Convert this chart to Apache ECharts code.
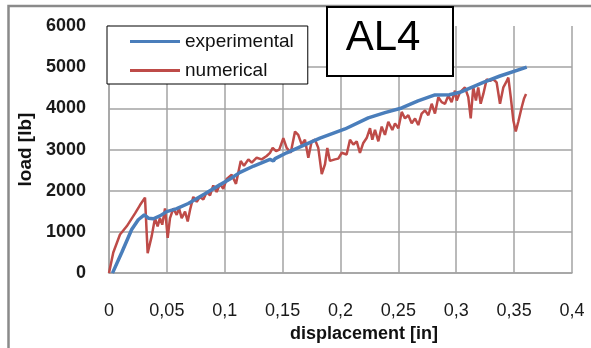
<!DOCTYPE html>
<html>
<head>
<meta charset="utf-8">
<script src="https://cdn.jsdelivr.net/npm/echarts@6/dist/echarts.min.js"></script>
<style>
  html, body { margin: 0; padding: 0; background: #fff; }
  #chart { width: 591px; height: 348px; }
</style>
</head>
<body>
<div id="chart"></div>
<script>
// experimental curve (displacement in, load lb)
const expDisp = [0.003, 0.011, 0.0196, 0.0253, 0.0305, 0.034, 0.0383, 0.044, 0.0498, 0.058, 0.0685,
  0.0829, 0.095, 0.1045, 0.1132, 0.125, 0.1391, 0.142, 0.1435, 0.1535, 0.168, 0.1823, 0.2039,
  0.224, 0.2384, 0.2395, 0.2529, 0.267, 0.2816, 0.294, 0.3032, 0.3234, 0.3378, 0.3609];
const expLoad = [0, 500, 1057, 1295, 1414, 1333, 1320, 1390, 1493, 1560, 1690,
  1929, 2130, 2286, 2445, 2600, 2762, 2722, 2780, 2921, 3100, 3279, 3500,
  3771, 3898, 3860, 4010, 4180, 4326, 4330, 4390, 4629, 4786, 5000];

// numerical curve
const numDisp = [0, 0.0037, 0.0095, 0.0153, 0.0225, 0.0268, 0.0311, 0.0334, 0.0369, 0.0397, 0.042,
  0.044, 0.046, 0.0484, 0.0507, 0.0527, 0.0556, 0.0585, 0.0605, 0.0628, 0.0657, 0.068, 0.07,
  0.0728, 0.0758, 0.0786, 0.0815, 0.0844, 0.0873, 0.0901, 0.093, 0.0959, 0.0987, 0.1017,
  0.1031, 0.106, 0.1097, 0.1138, 0.1166, 0.1204, 0.1233, 0.1276, 0.1319, 0.1362, 0.1391, 0.1414,
  0.1443, 0.1471, 0.1506, 0.1535, 0.157, 0.1607, 0.1635, 0.1665, 0.1693, 0.1722, 0.1751, 0.178,
  0.1808, 0.1838, 0.1866, 0.1886, 0.1909, 0.1952, 0.1981, 0.201, 0.2053, 0.2082, 0.2111, 0.214,
  0.2168, 0.2197, 0.2226, 0.2255, 0.2275, 0.2298, 0.2327, 0.2356, 0.2384, 0.2413, 0.2448, 0.2471,
  0.25, 0.2529, 0.2557, 0.2586, 0.2615, 0.2644, 0.2672, 0.2701, 0.273, 0.2759, 0.2788, 0.2816,
  0.2845, 0.2874, 0.2903, 0.2931, 0.296, 0.2989, 0.3004, 0.3032, 0.3075, 0.3104, 0.3125, 0.3147,
  0.317, 0.319, 0.3211, 0.3234, 0.3263, 0.3292, 0.332, 0.3349, 0.3378, 0.3407, 0.343, 0.345,
  0.3471, 0.3493, 0.3514, 0.3536, 0.3566, 0.3585, 0.3603];
const numLoad = [0, 500, 938, 1136, 1452, 1652, 1833, 486, 898, 1333, 1136,
  1333, 1176, 1571, 857, 1333, 1571, 1414, 1571, 1333, 1493, 1255, 1533,
  1850, 1731, 1850, 1786, 1969, 1890, 2128, 1969, 2167, 2048, 2286,
  2248, 2390, 2167, 2724, 2605, 2762, 2683, 2802, 2762, 2843, 2921, 3040,
  2962, 3000, 3279, 3040, 2921, 3438, 3357, 3119, 3238, 2802, 3200, 3238,
  3040, 2405, 2643, 3040, 2724, 2762, 2780, 2921, 2881, 3238, 3119, 3200,
  2921, 3160, 3279, 3517, 3238, 3476, 3200, 3557, 3357, 3676, 3476, 3636,
  3517, 3914, 3755, 3833, 3636, 3755, 3595, 3874, 3952, 3833, 4112, 3874,
  4271, 4152, 4112, 4310, 4152, 4429, 4190, 4390, 4510, 4271, 3755, 4510,
  4190, 4510, 4112, 4350, 4707, 4667, 4707, 4629, 4112, 4510, 4629, 4748,
  4271, 3714, 3438, 3676, 4033, 4231, 4350];

const xTicks = { min: 0, max: 0.4, step: 0.05 };
const yTicks = { min: 0, max: 6000, step: 1000 };

const zip = (xs, ys) => xs.map((x, i) => [x, ys[i]]);
const font = "'Liberation Sans', Arial, sans-serif";
const gridGray = '#a3a3a3';

const chart = echarts.init(document.getElementById('chart'));

const option = {
  animation: false,
  backgroundColor: '#fff',
  grid: { left: 109, right: 19, top: 26, bottom: 70 },
  legend: {
    orient: 'vertical',
    left: 107,
    top: 26,
    padding: [5, 14, 3, 23],
    icon: 'rect',
    itemWidth: 50,
    itemHeight: 3,
    itemGap: 8,
    backgroundColor: '#fff',
    borderColor: '#000',
    borderWidth: 1,
    borderRadius: 0,
    z: 5,
    textStyle: { fontFamily: font, fontSize: 19, lineHeight: 21, color: '#111' },
    data: ['experimental', 'numerical'],
  },
  xAxis: {
    type: 'value',
    min: xTicks.min,
    max: xTicks.max,
    interval: xTicks.step,
    name: 'displacement [in]',
    nameLocation: 'middle',
    nameGap: 45,
    nameTextStyle: { fontFamily: font, fontSize: 18, fontWeight: 'bold', color: '#111', padding: [0, 0, 0, 47] },
    axisLine: { show: true, lineStyle: { color: gridGray, width: 1.5 } },
    axisTick: { show: false },
    axisLabel: {
      margin: 29,
      fontFamily: font,
      fontSize: 18,
      color: '#1a1a1a',
      formatter: (v) => String(+v.toFixed(2)).replace('.', ','),
    },
    splitLine: { show: true, lineStyle: { color: gridGray, width: 1.5 } },
  },
  yAxis: {
    type: 'value',
    min: yTicks.min,
    max: yTicks.max,
    interval: yTicks.step,
    name: 'load [lb]',
    nameLocation: 'middle',
    nameGap: 70,
    nameTextStyle: { fontFamily: font, fontSize: 19, fontWeight: 'bold', color: '#111' },
    axisLine: { show: true, lineStyle: { color: gridGray, width: 1.5 } },
    axisTick: { show: false },
    axisLabel: {
      margin: 23,
      fontFamily: font,
      fontSize: 18,
      fontWeight: 'bold',
      color: '#1a1a1a',
      formatter: (v) => String(v),
    },
    splitLine: { show: true, showMaxLine: false, lineStyle: { color: gridGray, width: 1.5 } },
  },
  series: [
    {
      name: 'experimental',
      type: 'line',
      symbol: 'none',
      color: '#4a7ebb',
      lineStyle: { width: 3.5, color: '#4a7ebb' },
      data: zip(expDisp, expLoad),
      z: 3,
    },
    {
      name: 'numerical',
      type: 'line',
      symbol: 'none',
      color: '#be4b48',
      lineStyle: { width: 2.5, color: '#be4b48' },
      data: zip(numDisp, numLoad),
      z: 2,
    },
  ],
  graphic: [
    {
      type: 'polyline',
      z: 10,
      shape: { points: [[8.5, 348], [8.5, 6], [591, 6]] },
      style: { stroke: '#8a8a8a', lineWidth: 2.5, fill: null },
    },
    {
      type: 'rect',
      z: 10,
      shape: { x: 327, y: 7, width: 126, height: 69 },
      style: { fill: '#fff', stroke: '#000', lineWidth: 2 },
    },
    {
      type: 'text',
      z: 11,
      x: 383,
      y: 38,
      style: {
        text: 'AL4',
        font: "42px 'Liberation Sans', Arial, sans-serif",
        fill: '#000',
        textAlign: 'center',
        textVerticalAlign: 'middle',
      },
    },
  ],
};

chart.setOption(option);
</script>
</body>
</html>
